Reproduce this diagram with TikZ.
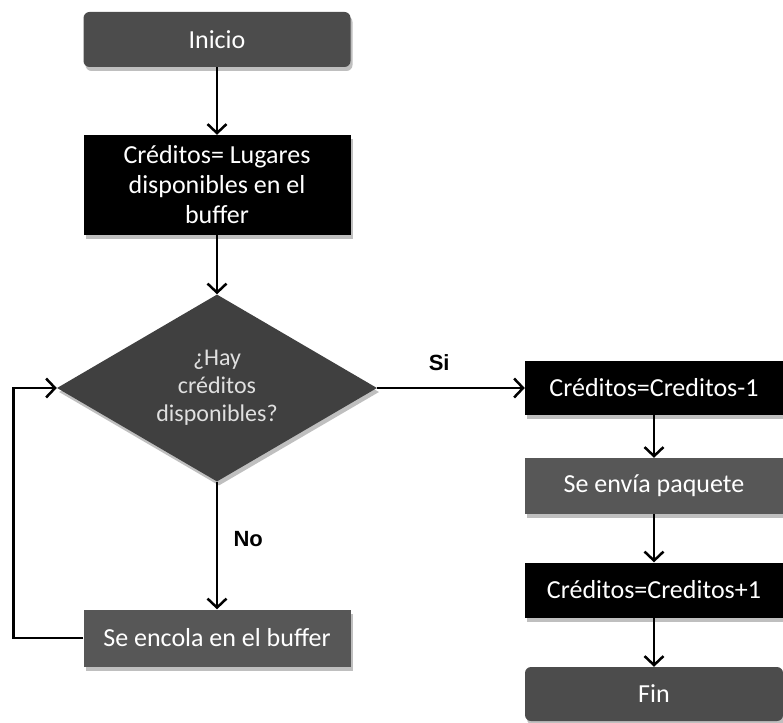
\documentclass[tikz,border=0pt]{standalone}
\usepackage{fontspec}
\setmainfont{Carlito}
\newfontfamily\labelfont{Liberation Sans}
\usetikzlibrary{shapes.geometric,arrows.meta,shadows}

\begin{document}
\begin{tikzpicture}[x=1pt,y=-1pt,node distance=100pt,>={Straight Barb[length=9pt,width=19pt]}]
	\useasboundingbox (0,0) rectangle (783,722);
	\tikzstyle{box}=[rectangle, minimum width=267pt, inner sep=0pt, text=white, align=center,
		font=\fontsize{26}{30}\selectfont,
		drop shadow={shadow xshift=2pt, shadow yshift=-4pt, fill=black, opacity=0.25}]
	\tikzstyle{decision}=[diamond, aspect=1.7, minimum width=320pt, minimum height=187pt, inner sep=0pt,
		fill=black!75, text=white!88!black, align=center, font=\fontsize{24}{28}\selectfont,
		drop shadow={shadow xshift=2pt, shadow yshift=-4pt, fill=black, opacity=0.25}]
	\tikzstyle{answer}=[font=\labelfont\bfseries\fontsize{22}{26}\selectfont]
	\tikzstyle{line}=[line width=2.5pt]
	%Left Column
	\node[box, rounded corners=6pt, fill=black!70, minimum height=55pt](inicio) at (217,39.5){Inicio};
	\node[box, fill=black, minimum height=100pt](creditos)[below of = inicio, node distance=145.5pt]{Créditos= Lugares\\disponibles en el\\buffer};
	\node[decision](hay)[below of = creditos, node distance=203pt]{¿Hay\\créditos\\disponibles?};
	\node[box, fill=black!66, minimum height=57pt](encola)[below of = hay, node distance=250pt]{Se encola en el buffer};
	%Right Column
	\node[box, fill=black, minimum width=258pt, minimum height=54pt](menos)[right of = hay, node distance=437pt]{Créditos=Creditos-1};
	\node[box, fill=black!66, minimum width=258pt, minimum height=56pt](envia)[below of = menos, node distance=98pt]{Se envía paquete};
	\node[box, fill=black, minimum width=258pt, minimum height=55pt](mas)[below of = envia, node distance=104pt]{Créditos=Creditos+1};
	\node[box, rounded corners=6pt, fill=black!70, minimum width=258pt, minimum height=54pt](fin)[below of = mas, node distance=104pt]{Fin};
	%Arrows
	\draw[line,->] (inicio) -- (creditos);
	\draw[line,->] (creditos) -- (hay);
	\draw[line,->] (hay) -- node[answer, pos=0.42, above=13pt](si){Si} (menos);
	\draw[line,->] (hay) -- node[answer, pos=0.45, right=12pt](no){No} (encola);
	\draw[line,->] (encola.west) -- ++(-70,0) |- (hay.west);
	\draw[line,->] (menos) -- (envia);
	\draw[line,->] (envia) -- (mas);
	\draw[line,->] (mas) -- (fin);
\end{tikzpicture}
\end{document}
